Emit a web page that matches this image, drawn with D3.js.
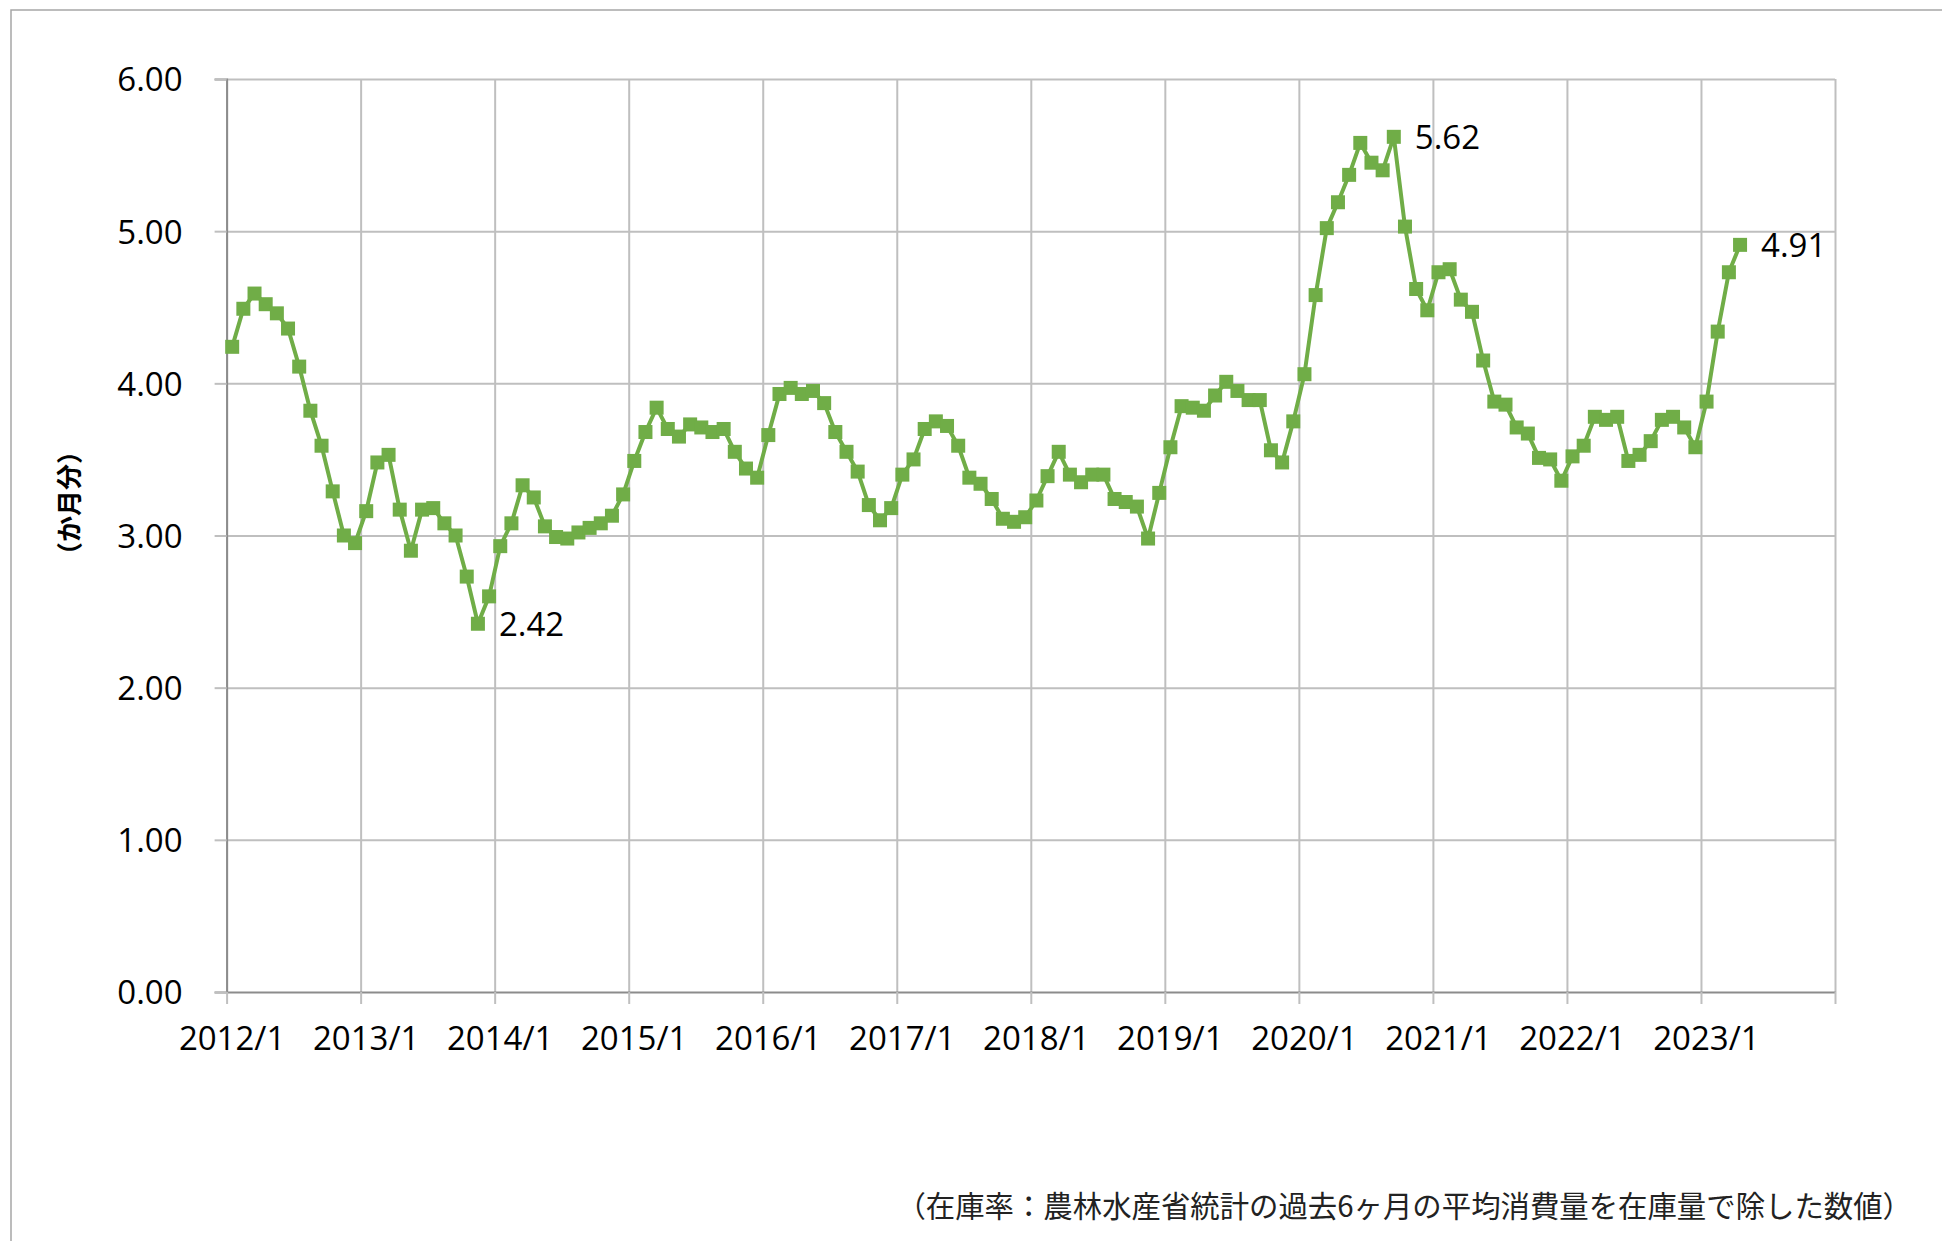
<!DOCTYPE html>
<html>
<head>
<meta charset="utf-8">
<script src="https://cdn.jsdelivr.net/npm/d3@7"></script>
<style>
  html, body { margin: 0; padding: 0; background: #fff; }
  svg { display: block; }
</style>
</head>
<body>
<svg id="chart"></svg>
<script>
// 在庫率（か月分）月次 2012/1 〜 2023/4
const years = [2012, 2013, 2014, 2015, 2016, 2017, 2018, 2019, 2020, 2021, 2022, 2023];
const values = [
  4.24, 4.49, 4.59, 4.52, 4.46, 4.36, 4.11, 3.82, 3.59, 3.29, 3.00, 2.95, // 2012
  3.16, 3.48, 3.53, 3.17, 2.90, 3.17, 3.18, 3.08, 3.00, 2.73, 2.42, 2.60, // 2013
  2.93, 3.08, 3.33, 3.25, 3.06, 2.99, 2.98, 3.02, 3.05, 3.08, 3.13, 3.27, // 2014
  3.49, 3.68, 3.84, 3.70, 3.65, 3.73, 3.71, 3.68, 3.70, 3.55, 3.44, 3.38, // 2015
  3.66, 3.93, 3.97, 3.93, 3.95, 3.87, 3.68, 3.55, 3.42, 3.20, 3.10, 3.18, // 2016
  3.40, 3.50, 3.70, 3.75, 3.72, 3.59, 3.38, 3.34, 3.24, 3.11, 3.09, 3.12, // 2017
  3.23, 3.39, 3.55, 3.40, 3.35, 3.40, 3.40, 3.24, 3.22, 3.19, 2.98, 3.28, // 2018
  3.58, 3.85, 3.84, 3.82, 3.92, 4.01, 3.95, 3.89, 3.89, 3.56, 3.48, 3.75, // 2019
  4.06, 4.58, 5.02, 5.19, 5.37, 5.58, 5.45, 5.40, 5.62, 5.03, 4.62, 4.48, // 2020
  4.73, 4.75, 4.55, 4.47, 4.15, 3.88, 3.86, 3.71, 3.67, 3.51, 3.50, 3.36, // 2021
  3.52, 3.59, 3.78, 3.76, 3.78, 3.49, 3.53, 3.62, 3.76, 3.78, 3.71, 3.58, // 2022
  3.88, 4.34, 4.73, 4.91                                                  // 2023
];
const yTicks = [0, 1, 2, 3, 4, 5, 6];
const xTickLabels = ["2012/1", "2013/1", "2014/1", "2015/1", "2016/1", "2017/1",
                     "2018/1", "2019/1", "2020/1", "2021/1", "2022/1", "2023/1"];
// データラベル（2013/11, 2020/9, 2023/4）
const labelled = ["2013/11", "2020/9", "2023/4"];
const yTitle = "（か月分）";
const note = "（在庫率：農林水産省統計の過去6ヶ月の平均消費量を在庫量で除した数値）";

// カテゴリ（月）
const months = [];
years.forEach(y => { for (let m = 1; m <= 12; m++) months.push(y + "/" + m); });
const data = values.map((v, i) => ({ key: months[i], idx: i, value: v }));

const width = 1942, height = 1241;
const plotLeft = 226.6, plotRight = 1835, plotTop = 79, plotBottom = 992;

const svg = d3.select("#chart").attr("width", width).attr("height", height);

// 外枠
svg.append("path")
  .attr("d", `M11,${height + 5} V10 H${width + 5}`)
  .attr("fill", "none")
  .attr("stroke", "#a6a6a6")
  .attr("stroke-width", 1.5);

// 横軸は月のカテゴリ、年ごとに目盛り
const x = d3.scaleLinear().domain([0, months.length]).range([plotLeft, plotRight]);
const y = d3.scaleLinear().domain([0, 6]).range([plotBottom, plotTop]);
const xTicks = d3.range(0, months.length + 1, 12);

// グリッド
svg.append("g")
  .attr("transform", `translate(0,${plotBottom})`)
  .call(d3.axisBottom(x).tickValues(xTicks).tickSize(-(plotBottom - plotTop)).tickFormat(""))
  .call(g => g.select(".domain").remove())
  .call(g => g.selectAll("line").attr("stroke", "#bfbfbf").attr("stroke-width", 2));

svg.append("g")
  .attr("transform", `translate(${plotLeft},0)`)
  .call(d3.axisLeft(y).tickValues(yTicks.slice(1)).tickSize(-(plotRight - plotLeft)).tickFormat(""))
  .call(g => g.select(".domain").remove())
  .call(g => g.selectAll("line").attr("stroke", "#bfbfbf").attr("stroke-width", 2));

// Y軸
svg.append("g")
  .attr("transform", `translate(${plotLeft},0)`)
  .call(d3.axisLeft(y).tickValues(yTicks).tickSize(12).tickFormat(d3.format(".2f")))
  .call(g => g.select(".domain").attr("stroke", "#8c8c8c").attr("stroke-width", 2))
  .call(g => g.selectAll("line").attr("stroke", "#bfbfbf").attr("stroke-width", 2))
  .call(g => g.selectAll("text")
    .attr("x", -44)
    .attr("dy", "0.36em")
    .attr("fill", "#000")
    .style("font-family", "'Open Sans', sans-serif")
    .style("font-size", "33px"));

// X軸
svg.append("g")
  .attr("transform", `translate(0,${plotBottom})`)
  .call(d3.axisBottom(x).tickValues(xTicks).tickSize(12).tickSizeOuter(0)
    .tickFormat((d, i) => xTickLabels[i] || ""))
  .call(g => g.select(".domain").attr("stroke", "#8c8c8c").attr("stroke-width", 2))
  .call(g => g.selectAll("line").attr("stroke", "#bfbfbf").attr("stroke-width", 2))
  .call(g => g.selectAll("text")
    .attr("y", 0)
    .attr("dy", 58)
    .attr("dx", 5)
    .attr("fill", "#000")
    .style("font-family", "'Open Sans', sans-serif")
    .style("font-size", "33px"));

// 折れ線
const line = d3.line()
  .x(d => x(d.idx + 0.5))
  .y(d => y(d.value));

svg.append("path")
  .datum(data)
  .attr("fill", "none")
  .attr("stroke", "#70ad47")
  .attr("stroke-width", 4)
  .attr("stroke-linejoin", "round")
  .attr("d", line);

const ms = 14;
svg.selectAll(".marker")
  .data(data)
  .enter()
  .append("rect")
  .attr("class", "marker")
  .attr("x", d => x(d.idx + 0.5) - ms / 2)
  .attr("y", d => y(d.value) - ms / 2)
  .attr("width", ms)
  .attr("height", ms)
  .attr("fill", "#70ad47");

// データラベル
svg.selectAll(".label")
  .data(data.filter(d => labelled.includes(d.key)))
  .enter()
  .append("text")
  .attr("class", "label")
  .attr("x", d => x(d.idx + 0.5) + 21)
  .attr("y", d => y(d.value))
  .attr("dy", "0.36em")
  .style("font-family", "'Open Sans', sans-serif")
  .style("font-size", "33px")
  .attr("fill", "#000")
  .text(d => d3.format(".2f")(d.value));

// 縦軸タイトル
svg.append("text")
  .attr("transform", "translate(70,503) rotate(-90)")
  .attr("text-anchor", "middle")
  .attr("dy", "0.36em")
  .style("font-family", "'Noto Sans CJK JP', sans-serif")
  .style("font-size", "26px")
  .style("font-weight", "bold")
  .attr("fill", "#000")
  .text(yTitle);

// 注記
svg.append("text")
  .attr("x", 1912)
  .attr("y", 1217)
  .attr("text-anchor", "end")
  .style("font-family", "'Noto Sans CJK JP', sans-serif")
  .style("font-size", "29.4px")
  .attr("fill", "#222")
  .text(note);
</script>
</body>
</html>
